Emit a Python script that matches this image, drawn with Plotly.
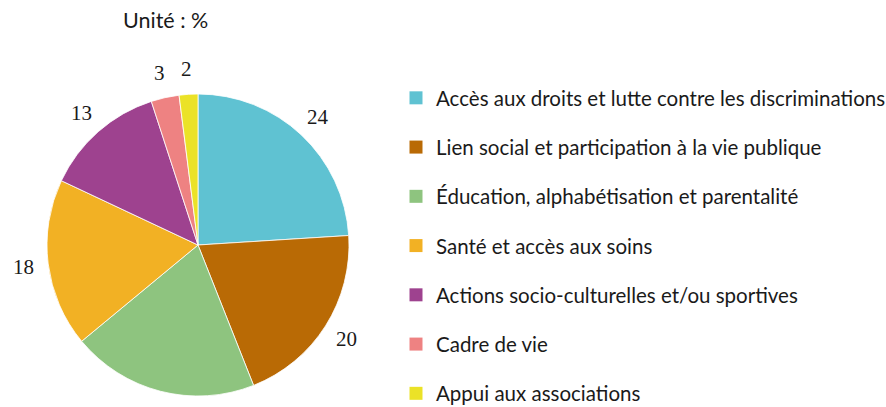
import math
import plotly.graph_objects as go

categories = [
    "Accès aux droits et lutte contre les discriminations",
    "Lien social et participation à la vie publique",
    "Éducation, alphabétisation et parentalité",
    "Santé et accès aux soins",
    "Actions socio-culturelles et/ou sportives",
    "Cadre de vie",
    "Appui aux associations",
]
values = [24, 20, 20, 18, 13, 3, 2]
colors = ["#5fc2d2", "#b96a05", "#8ec47f", "#f2b124", "#9e428f", "#ee8282", "#ebe227"]
unit_label = "Unité : %"

W, H = 886, 407
# pie geometry (pixels)
cx, cy, r = 198, 245, 151
dom_x = [(cx - r) / W, (cx + r) / W]
dom_y = [1 - (cy + r) / H, 1 - (cy - r) / H]

fig = go.Figure()
fig.add_trace(go.Pie(
    labels=categories, values=values, sort=False, direction="clockwise", rotation=0,
    marker=dict(colors=colors, line=dict(color="white", width=0.8)),
    textinfo="none", hoverinfo="label+value", showlegend=False,
    domain=dict(x=dom_x, y=dom_y),
))

# legend entries (one group each so spacing can be controlled)
for i, (lab, col) in enumerate(zip(categories, colors)):
    fig.add_trace(go.Scatter(
        x=[None], y=[None], mode="markers", name=lab, legendgroup=f"g{i}",
        marker=dict(symbol="square", size=13, color=col), showlegend=True,
    ))

# value labels placed outside the slices
total = sum(values)
annotations = []
cum = 0
R_lab = 176
for v in values:
    mid = (cum + v / 2) / total * 2 * math.pi
    cum += v
    px = cx + R_lab * math.sin(mid)
    py = cy - R_lab * math.cos(mid)
    annotations.append(dict(
        x=px / W, y=1 - py / H, xref="paper", yref="paper", text=str(v),
        showarrow=False, xanchor="center", yanchor="middle",
        font=dict(family="Liberation Serif", size=21, color="#1a1a1a"),
    ))

annotations.append(dict(
    x=165 / W, y=1 - 20 / H, xref="paper", yref="paper", text=unit_label,
    showarrow=False, xanchor="center", yanchor="middle",
    font=dict(family="Lato", size=21.5, color="#1a1a1a"),
))

fig.update_layout(
    width=W, height=H, margin=dict(l=0, r=0, t=0, b=0, autoexpand=False),
    paper_bgcolor="white", plot_bgcolor="white",
    xaxis=dict(visible=False), yaxis=dict(visible=False),
    annotations=annotations,
    legend=dict(
        x=396 / W, y=1 - 78 / H, xanchor="left", yanchor="top",
        font=dict(family="Lato", size=20.5, color="#1a1a1a"),
        tracegroupgap=19.6, itemclick=False, bgcolor="rgba(0,0,0,0)",
    ),
)

fig.write_html("out.html", config={"displayModeBar": False},
               post_script="document.body.style.margin='0';")
